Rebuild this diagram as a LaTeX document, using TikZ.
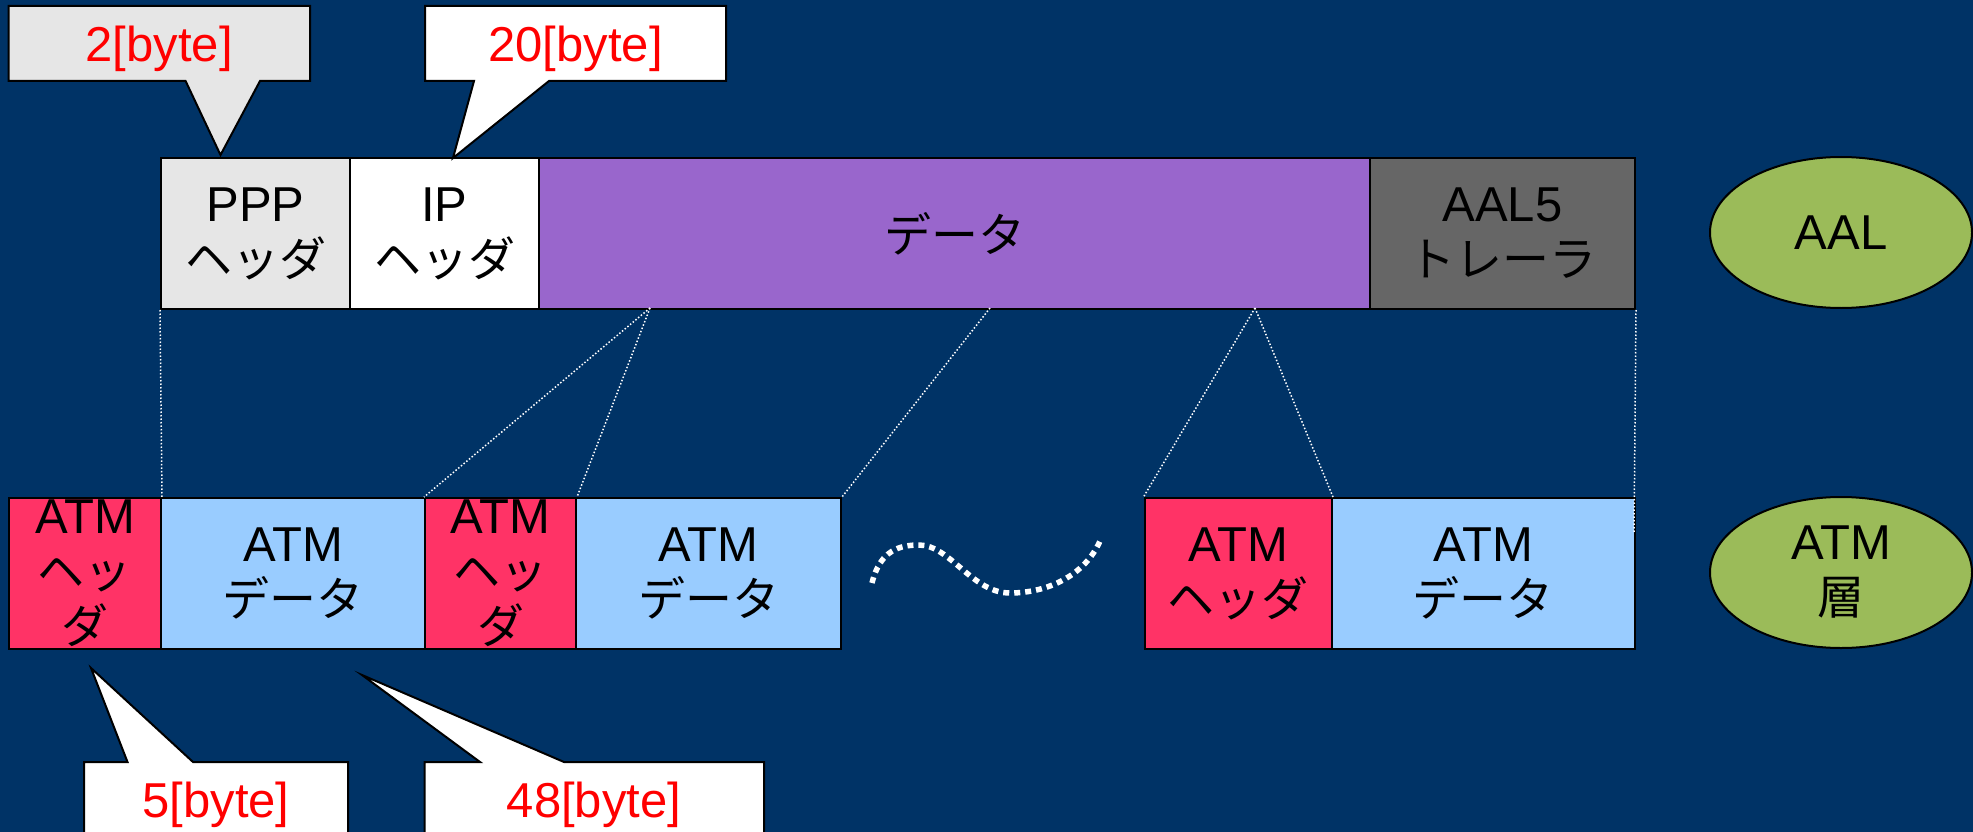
\documentclass[tikz,border=0pt]{standalone}
\usepackage{fontspec}
\setmainfont{Liberation Sans}
\newfontfamily\jpfam{Noto Sans CJK JP}
\newcommand\jpt[1]{{\jpfam\fontsize{47}{55}\selectfont #1}}
\usetikzlibrary{shapes.geometric}
\definecolor{bg}{HTML}{003366}
\definecolor{pppc}{HTML}{E6E6E6}
\definecolor{datac}{HTML}{9966CC}
\definecolor{trailc}{HTML}{666666}
\definecolor{hdrc}{HTML}{FF3366}
\definecolor{atmdc}{HTML}{99CCFF}
\definecolor{ellc}{HTML}{9BBB59}
\begin{document}
\begin{tikzpicture}[x=1pt,y=-1pt,
  box/.style={draw=black, line width=2pt, anchor=north west, inner sep=0pt,
    align=center, text=black, font=\fontsize{49}{55}\selectfont, minimum height=151pt},
  ell/.style={ellipse, draw=black, line width=2pt, fill=ellc, inner sep=0pt,
    align=center, text=black, font=\fontsize{49}{55}\selectfont,
    minimum width=262pt, minimum height=151pt},
  callout/.style={draw=black, line width=2pt, line join=miter},
  lbl/.style={text=red, anchor=base, inner sep=0pt, font=\fontsize{49}{55}\selectfont},
  conn/.style={draw=white, line width=1.5pt, dash pattern=on 1.5pt off 2pt},
  wave/.style={draw=white, line width=5.5pt, dash pattern=on 6pt off 5pt}]
\useasboundingbox (0,0) rectangle (1973,832);
\clip (0,0) rectangle (1973,832);
\fill[bg] (0,0) rectangle (1973,832);

% top row (AAL)
\node[box, fill=pppc, minimum width=189pt] (ppp) at (160,157) {PPP\\\jpt{ヘッダ}};
\node[box, fill=white, minimum width=189pt] (ip) at (349,157) {IP\\\jpt{ヘッダ}};
\node[box, fill=datac, minimum width=831pt] (data) at (538,157) {\jpt{データ}};
\node[box, fill=trailc, minimum width=265pt] (trail) at (1369,157) {AAL5\\\jpt{トレーラ}};

% bottom row (ATM)
\node[box, fill=hdrc, minimum width=152pt] (h1) at (8,497) {ATM\\\jpt{ヘッ}\\\jpt{ダ}};
\node[box, fill=atmdc, minimum width=264pt] (d1) at (160,497) {ATM\\\jpt{データ}};
\node[box, fill=hdrc, minimum width=151pt] (h2) at (424,497) {ATM\\\jpt{ヘッ}\\\jpt{ダ}};
\node[box, fill=atmdc, minimum width=265pt] (d2) at (575,497) {ATM\\\jpt{データ}};
\node[box, fill=hdrc, minimum width=187.5pt] (h3) at (1143.5,497) {ATM\\\jpt{ヘッダ}};
\node[box, fill=atmdc, minimum width=302.5pt] (d3) at (1331,497) {ATM\\\jpt{データ}};

% layer labels
\node[ell] (aal) at (1841,232.5) {AAL};
\node[ell] (atm) at (1841,572.5) {ATM\\\jpt{層}};

% connectors
\coordinate (s1) at (650,308);
\coordinate (s2) at (990,308);
\coordinate (s3) at (1255,308);
\coordinate (e1) at (1634,533);
\draw[conn] (ppp.south west) -- (h1.north east);
\draw[conn] (s1) -- (h2.north west);
\draw[conn] (s1) -- (h2.north east);
\draw[conn] (s2) -- (d2.north east);
\draw[conn] (s3) -- (h3.north west);
\draw[conn] (s3) -- (h3.north east);
\draw[conn] (trail.south east) -- (e1);

% wave (omission)
\draw[wave] (872,583) .. controls (880,550) and (900,545) .. (919,545)
  .. controls (950,545) and (972,593) .. (1010,593)
  .. controls (1048,593) and (1085,575) .. (1100,541);

% callouts
\draw[callout, fill=pppc] (8.7,6) -- (310,6) -- (310,81) -- (260,81) -- (220.5,155) -- (185.6,81) -- (8.7,81) -- cycle;
\node[lbl] (c1) at (159.3,62) {2[byte]};
\draw[callout, fill=white] (425,6) -- (726,6) -- (726,81) -- (549,81) -- (453,158) -- (474,81) -- (425,81) -- cycle;
\node[lbl] (c2) at (575.5,62) {20[byte]};
\draw[callout, fill=white] (84,762) -- (127.5,762) -- (91,668) -- (193,762) -- (348,762) -- (348,850) -- (84,850) -- cycle;
\node[lbl] (c3) at (216,817) {5[byte]};
\draw[callout, fill=white] (424.5,762) -- (480,762) -- (362,675) -- (564,762) -- (764,762) -- (764,850) -- (424.5,850) -- cycle;
\node[lbl] (c4) at (594,817) {48[byte]};
\end{tikzpicture}
\end{document}
